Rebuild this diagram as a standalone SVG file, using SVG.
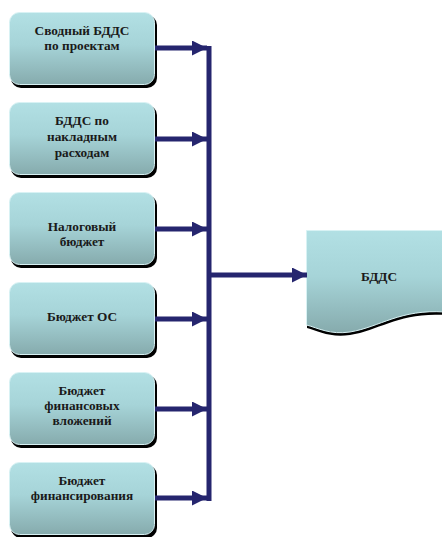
<svg xmlns="http://www.w3.org/2000/svg" width="442" height="537" viewBox="0 0 442 537">
  <defs>
    <linearGradient id="fillGrad" x1="0" y1="0" x2="0" y2="1">
      <stop offset="0" stop-color="#b2e0e4"/>
      <stop offset="0.45" stop-color="#a6d4d8"/>
      <stop offset="1" stop-color="#86abad"/>
    </linearGradient>
    <marker id="arrowHead" markerWidth="16" markerHeight="16" refX="15" refY="7.5" markerUnits="userSpaceOnUse" orient="auto">
      <path d="M0,0 L15,7.5 L0,15 Z" fill="#25256e"/>
    </marker>
  </defs>
  <style>
    .shadow { fill: #000000; }
    .box { fill: url(#fillGrad); stroke: #d8f2f4; stroke-width: 1; }
    .label { font-family: "Liberation Serif", "Times New Roman", serif; font-weight: bold; font-size: 13.3px; fill: #1a1a1a; text-anchor: middle; }
    .link { stroke: #25256e; stroke-width: 5; fill: none; }
  </style>
  <rect width="442" height="537" fill="#ffffff"/>

  <g id="node-1">
    <rect class="shadow" x="11" y="15" width="146" height="73" rx="10"/>
    <rect class="box" x="9.5" y="12.5" width="145" height="72" rx="10"/>
    <text class="label" x="82" y="35">Сводный БДДС</text>
    <text class="label" x="82" y="50">по проектам</text>
  </g>
  <g id="node-2">
    <rect class="shadow" x="11" y="105" width="146" height="73" rx="10"/>
    <rect class="box" x="9.5" y="102.5" width="145" height="72" rx="10"/>
    <text class="label" x="82" y="125">БДДС по</text>
    <text class="label" x="82" y="141">накладным</text>
    <text class="label" x="82" y="157">расходам</text>
  </g>
  <g id="node-3">
    <rect class="shadow" x="11" y="195" width="146" height="73" rx="10"/>
    <rect class="box" x="9.5" y="192.5" width="145" height="72" rx="10"/>
    <text class="label" x="82" y="231">Налоговый</text>
    <text class="label" x="82" y="246">бюджет</text>
  </g>
  <g id="node-4">
    <rect class="shadow" x="11" y="285" width="146" height="73" rx="10"/>
    <rect class="box" x="9.5" y="282.5" width="145" height="72" rx="10"/>
    <text class="label" x="82" y="321">Бюджет ОС</text>
  </g>
  <g id="node-5">
    <rect class="shadow" x="11" y="375" width="146" height="73" rx="10"/>
    <rect class="box" x="9.5" y="372.5" width="145" height="72" rx="10"/>
    <text class="label" x="82" y="395">Бюджет</text>
    <text class="label" x="82" y="410">финансовых</text>
    <text class="label" x="82" y="425">вложений</text>
  </g>
  <g id="node-6">
    <rect class="shadow" x="11" y="465" width="146" height="73" rx="10"/>
    <rect class="box" x="9.5" y="462.5" width="145" height="72" rx="10"/>
    <text class="label" x="82" y="485">Бюджет</text>
    <text class="label" x="82" y="500">финансирования</text>
  </g>

  <g id="node-bdds">
    <path class="shadow" d="M307,233 L445,233 L445,315 C400,312 380,330 350,335 C330,338 318,331 307,328 Z"/>
    <path class="box" d="M306.5,230.5 L445,230.5 L445,312 C400,309 380,327 350,332 C330,335 318,328 306.5,325 Z"/>
    <text class="label" x="379" y="281">БДДС</text>
  </g>

  <g id="connectors">
    <line class="link" x1="209" y1="46" x2="209" y2="501"/>
    <line class="link" x1="155" y1="48" x2="207" y2="48" marker-end="url(#arrowHead)"/>
    <line class="link" x1="155" y1="139" x2="207" y2="139" marker-end="url(#arrowHead)"/>
    <line class="link" x1="155" y1="229" x2="207" y2="229" marker-end="url(#arrowHead)"/>
    <line class="link" x1="155" y1="319" x2="207" y2="319" marker-end="url(#arrowHead)"/>
    <line class="link" x1="155" y1="409" x2="207" y2="409" marker-end="url(#arrowHead)"/>
    <line class="link" x1="155" y1="498" x2="207" y2="498" marker-end="url(#arrowHead)"/>
    <line class="link" x1="209" y1="275" x2="307" y2="275" marker-end="url(#arrowHead)"/>
  </g>
</svg>
